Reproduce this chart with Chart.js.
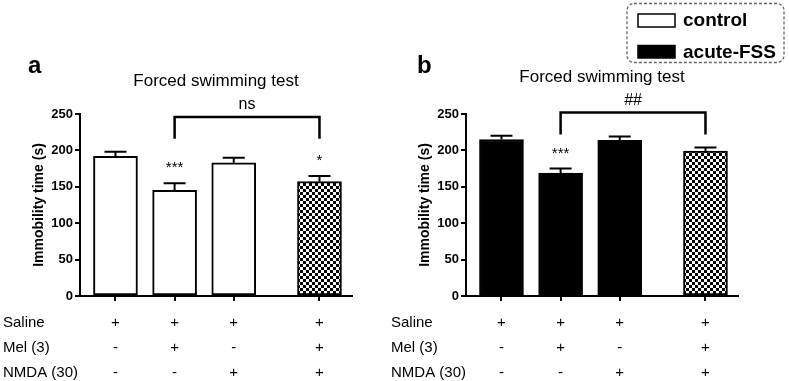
<!DOCTYPE html>
<html><head><meta charset="utf-8">
<script src="https://cdn.jsdelivr.net/npm/chart.js@4/dist/chart.umd.min.js"></script>
<style>
html,body{margin:0;padding:0;background:#fff;}
#wrap{position:relative;width:789px;height:381px;overflow:hidden;background:#fff;}
#ca{position:absolute;left:0;top:0;}
#cb{position:absolute;left:386px;top:0;}
</style></head><body>
<div id="wrap"><canvas id="ca" width="394" height="381"></canvas><canvas id="cb" width="403" height="381"></canvas></div>
<script>
// ---- data ----
const groupPos = [1, 2, 3, 4.45];
const rowLabels = ['Saline', 'Mel (3)', 'NMDA (30)'];
const saline = ['+', '+', '+', '+'];
const mel = ['-', '+', '-', '+'];
const nmda = ['-', '-', '+', '+'];
const controlMeans = [192, 145, 183, 157];
const controlSem = [6, 10, 7, 8];
const controlMarks = ['', '***', '', '*'];
const fssMeans = [215, 169, 214, 199];
const fssSem = [5, 6, 5, 5];
const fssMarks = ['', '***', '', ''];
const yTicks = [0, 50, 100, 150, 200, 250];
const legendLabels = ['control', 'acute-FSS'];
const panelTitle = 'Forced swimming test';
const yTitle = 'Immobility time (s)';

const FONT = "'Liberation Sans', Arial, Helvetica, sans-serif";
Chart.defaults.font.family = FONT;

function makeChart(id, cfg) {
  const canvas = document.getElementById(id);
  const ctx = canvas.getContext('2d');
  const tile = document.createElement('canvas'); tile.width = 6; tile.height = 6;
  const t = tile.getContext('2d');
  t.fillStyle = '#fff'; t.fillRect(0, 0, 6, 6);
  t.fillStyle = '#000'; t.fillRect(0, 0, 3, 3); t.fillRect(3, 3, 3, 3);
  const checker = ctx.createPattern(tile, 'repeat');
  const colors = cfg.means.map((_, i) => i === 3 ? checker : cfg.fill);

  const overlay = {
    id: 'overlay_' + id,
    afterDraw(chart) {
      const c = chart.ctx, xs = chart.scales.x, ys = chart.scales.y, ca = chart.chartArea;
      c.save();
      c.fillStyle = '#000'; c.strokeStyle = '#000';
      // error bars
      c.lineWidth = 2;
      cfg.means.forEach((m, i) => {
        const x = xs.getPixelForValue(groupPos[i]);
        const yb = ys.getPixelForValue(m);
        const yt = ys.getPixelForValue(m + cfg.sem[i]);
        c.beginPath(); c.moveTo(x, yb); c.lineTo(x, yt);
        c.moveTo(x - 11, yt); c.lineTo(x + 11, yt); c.stroke();
        if (cfg.marks[i]) {
          c.font = '15px ' + FONT; c.textAlign = 'center'; c.textBaseline = 'alphabetic';
          c.fillText(cfg.marks[i], x, yt - 11);
        }
      });
      // bracket
      const b = cfg.bracket;
      const xl = xs.getPixelForValue(groupPos[b.from]), xr = xs.getPixelForValue(groupPos[b.to]);
      const yl = ys.getPixelForValue(b.level), yd = ys.getPixelForValue(b.level - b.drop);
      c.lineWidth = 2.5;
      c.beginPath(); c.moveTo(xl, yd); c.lineTo(xl, yl); c.lineTo(xr, yl); c.lineTo(xr, yd); c.stroke();
      c.font = '16px ' + FONT; c.textAlign = 'center'; c.textBaseline = 'alphabetic';
      c.fillText(b.label, (xl + xr) / 2, yl - 8);
      // title
      c.font = '17px ' + FONT;
      c.fillText(panelTitle, (ca.left + ca.right) / 2, cfg.titleBase);
      // panel letter
      c.font = 'bold 24px ' + FONT; c.textAlign = 'left';
      c.fillText(cfg.letter, cfg.letterX, 73);
      // table
      const rows = [saline, mel, nmda];
      const bases = [326.5, 351.5, 376.5];
      c.font = '15px ' + FONT;
      rows.forEach((r, j) => {
        c.textAlign = 'left';
        c.fillText(rowLabels[j], cfg.rowX, bases[j]);
        c.textAlign = 'center';
        r.forEach((s, i) => c.fillText(s, xs.getPixelForValue(groupPos[i]), bases[j]));
      });
      // legend
      if (cfg.legend) {
        const L = cfg.legend;
        c.setLineDash([3, 2]); c.lineWidth = 1.3; c.strokeStyle = '#666';
        c.beginPath();
        if (c.roundRect) c.roundRect(L.x, L.y, L.w, L.h, 7); else c.rect(L.x, L.y, L.w, L.h);
        c.stroke();
        c.setLineDash([]);
        c.strokeStyle = '#000'; c.lineWidth = 1.5;
        c.fillStyle = '#fff'; c.fillRect(L.x + 11, 14, 37, 13); c.strokeRect(L.x + 11, 14, 37, 13);
        c.fillStyle = '#000'; c.fillRect(L.x + 11, 45.5, 37, 12.5); c.strokeRect(L.x + 11, 45.5, 37, 12.5);
        c.font = 'bold 19px ' + FONT; c.textAlign = 'left'; c.textBaseline = 'middle';
        c.fillText(legendLabels[0], L.x + 56, 21);
        c.fillText(legendLabels[1], L.x + 56, 52.5);
      }
      c.restore();
    }
  };

  return new Chart(ctx, {
    type: 'bar',
    data: { datasets: [{
      data: groupPos.map((x, i) => ({ x: x, y: cfg.means[i] })),
      backgroundColor: colors, borderColor: '#000', borderWidth: 2,
      borderSkipped: false, barThickness: 44
    }] },
    options: {
      responsive: false, animation: false, devicePixelRatio: 1,
      layout: { padding: { top: 114, right: cfg.padRight, bottom: 0, left: 0 } },
      plugins: { legend: { display: false }, tooltip: { enabled: false }, title: { display: false } },
      scales: {
        x: {
          type: 'linear', min: 0.4, max: 5.0, offset: false,
          afterBuildTicks: s => { s.ticks = groupPos.map(v => ({ value: v })); },
          afterFit: s => { s.height = 85; },
          ticks: { display: false },
          grid: { display: true, drawOnChartArea: false, drawTicks: true, tickLength: 5, color: '#000', lineWidth: 2, offset: false },
          border: { display: true, color: '#000', width: 2 }
        },
        y: {
          min: 0, max: 250,
          afterBuildTicks: s => { s.ticks = yTicks.map(v => ({ value: v })); },
          afterFit: s => { s.width = 80; },
          ticks: { color: '#000', font: { family: FONT, size: 13, weight: 'bold' }, padding: 2 },
          grid: { drawOnChartArea: false, drawTicks: true, tickLength: 5, color: '#000', lineWidth: 2 },
          border: { display: true, color: '#000', width: 2 },
          title: { display: true, text: yTitle, color: '#000', font: { family: FONT, size: 14, weight: 'bold' }, padding: { top: 31, bottom: 0 } }
        }
      }
    },
    plugins: [overlay]
  });
}

makeChart('ca', {
  means: controlMeans, sem: controlSem, marks: controlMarks, fill: '#fff',
  bracket: { from: 1, to: 3, level: 246, drop: 30, label: 'ns' },
  titleBase: 86, letter: 'a', letterX: 28, rowX: 3, padRight: 42, legend: null
});
makeChart('cb', {
  means: fssMeans, sem: fssSem, marks: fssMarks, fill: '#000',
  bracket: { from: 1, to: 3, level: 252, drop: 30, label: '##' },
  titleBase: 82, letter: 'b', letterX: 31, rowX: 5, padRight: 51,
  legend: { x: 241, y: 3.5, w: 157, h: 59 }
});
</script>
</body></html>
